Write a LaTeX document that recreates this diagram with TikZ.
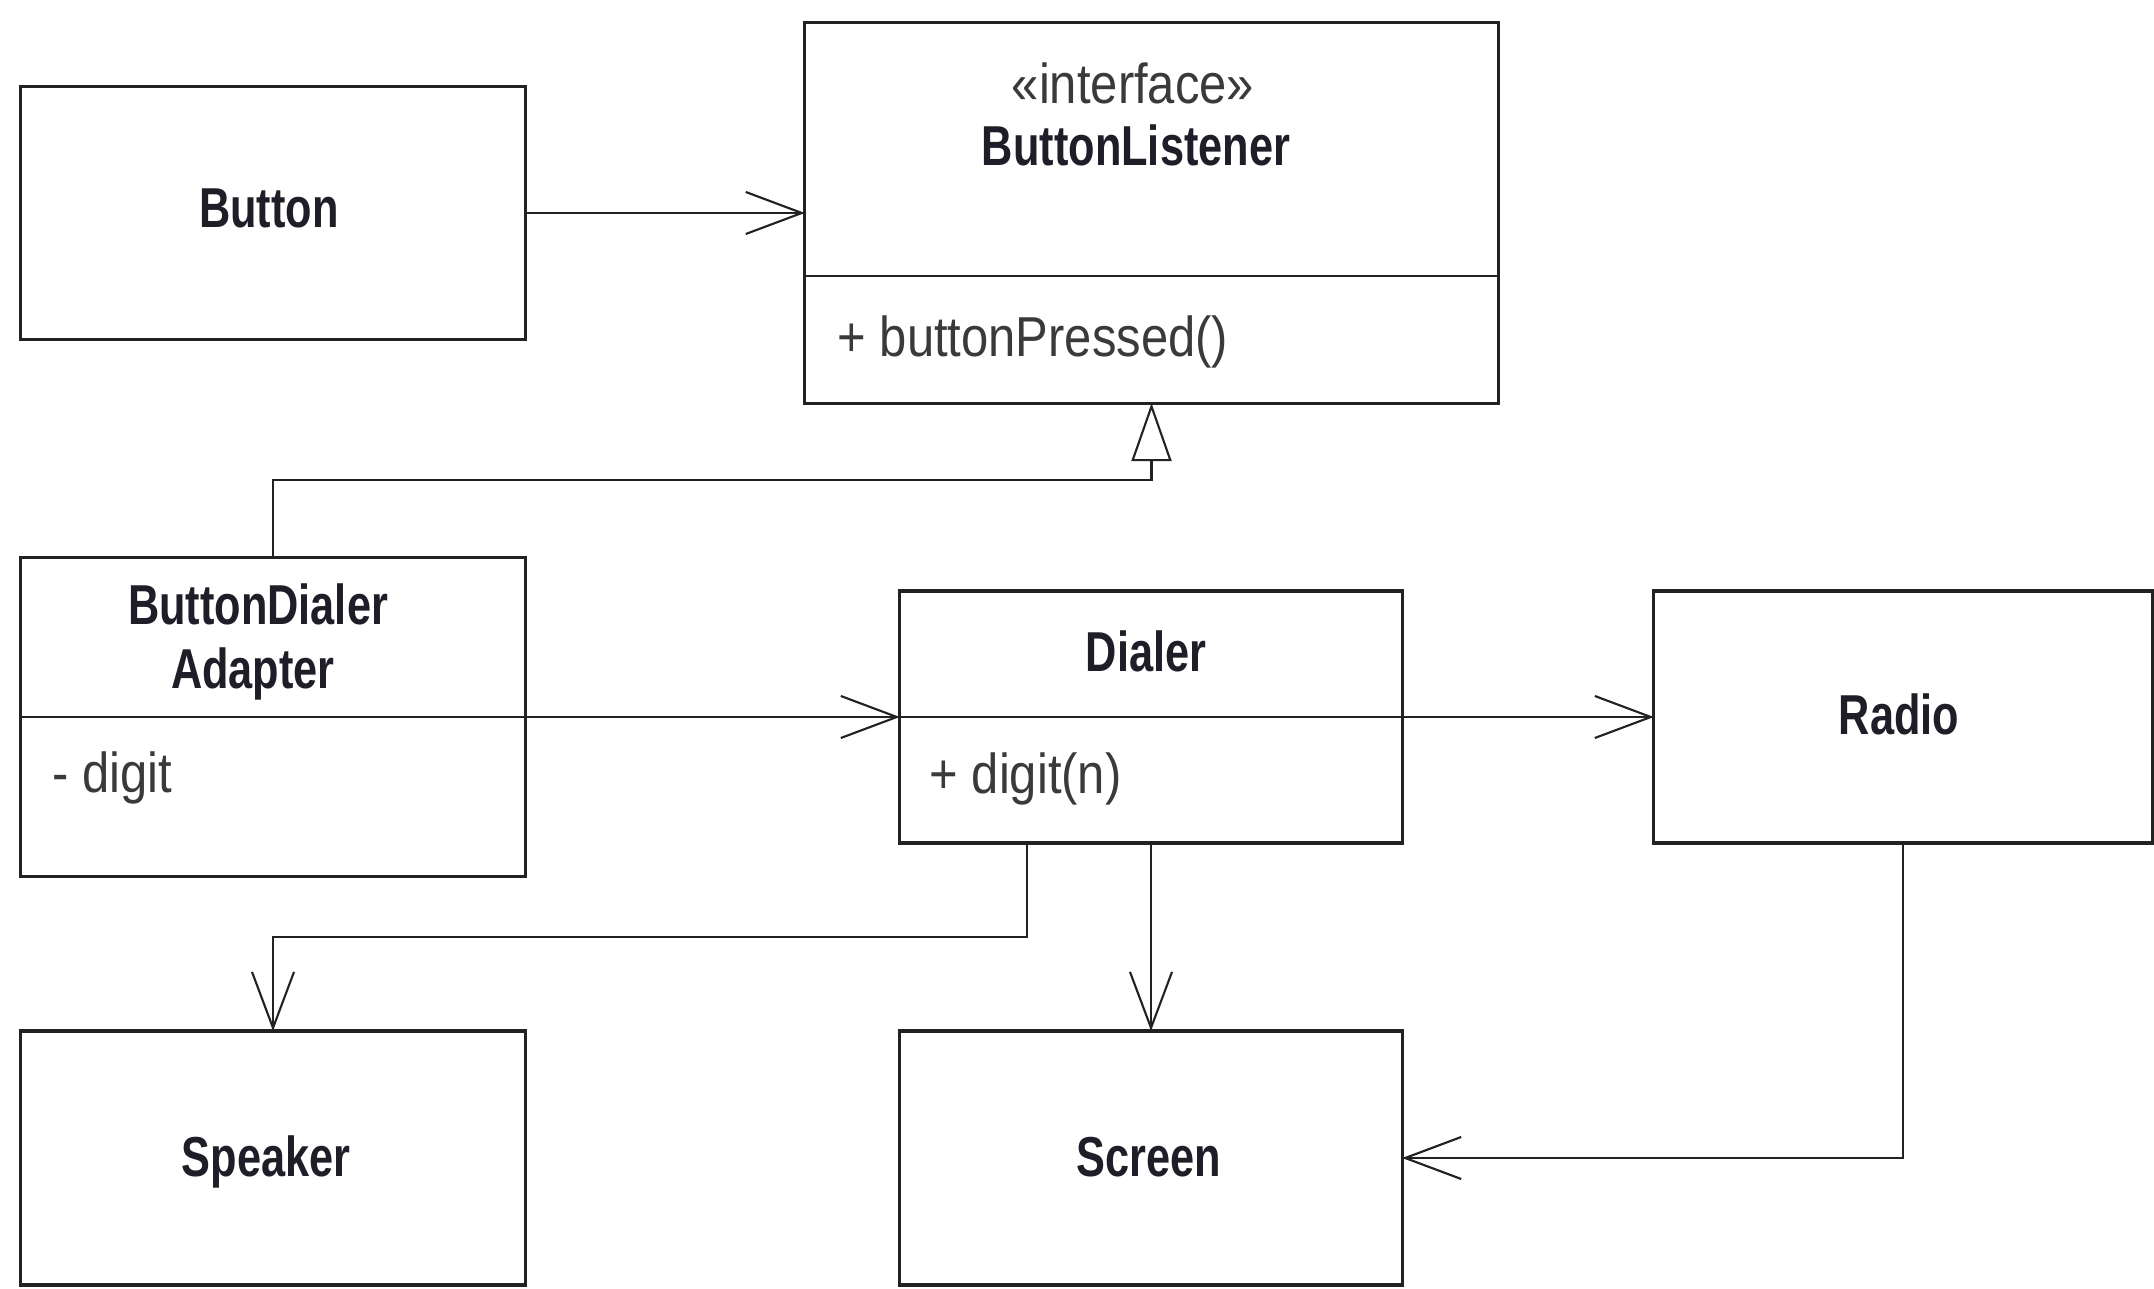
\documentclass[tikz,border=0pt]{standalone}
\usepackage{fontspec}
\setmainfont{Liberation Sans}
\newfontfamily\regf{Liberation Sans}[FakeStretch=0.87]
\newfontfamily\boldf{Liberation Sans}[FakeStretch=0.77]
\usetikzlibrary{arrows.meta,calc}
\definecolor{linec}{HTML}{222222}
\definecolor{boldc}{HTML}{1E1E28}
\definecolor{regc}{HTML}{3A3A3A}
\tikzset{
  cls/.style={draw=linec, line width=0.9pt, inner sep=0pt, outer sep=0pt, fill=white, rectangle},
  divl/.style={draw=linec, line width=0.8pt},
  assoc/.style={draw=linec, line width=0.6pt, -{Straight Barb[length=5.6mm, width=4.2mm, line width=0.6pt]}},
  gen/.style={draw=linec, line width=0.6pt, -{Triangle[open, length=5.8mm, width=4mm, fill=white, line width=0.6pt]}},
  bt/.style={font=\boldf\bfseries\fontsize{16}{19}\selectfont, text=boldc, inner sep=0pt},
  rt/.style={font=\regf\fontsize{16}{19}\selectfont, text=regc, inner sep=0pt},
}
\begin{document}
\begin{tikzpicture}[x=0.01cm, y=-0.01cm]
\useasboundingbox (0,0) rectangle (2154,1289);
\fill[white] (0,0) rectangle (2154,1289);

% boxes
\node[cls, minimum width=5.04cm, minimum height=2.53cm] (button) at (273,213) {};
\node[cls, minimum width=6.93cm, minimum height=3.80cm] (bl) at (1151.5,213) {};
\node[cls, minimum width=5.04cm, minimum height=3.18cm] (bda) at (273,717) {};
\node[cls, minimum width=5.02cm, minimum height=2.52cm] (dialer) at (1151,717) {};
\node[cls, minimum width=4.98cm, minimum height=2.52cm] (radio) at (1903,717) {};
\node[cls, minimum width=5.04cm, minimum height=2.54cm] (speaker) at (273,1158) {};
\node[cls, minimum width=5.02cm, minimum height=2.54cm] (screen) at (1151,1158) {};

% compartment dividers
\draw[divl] (bl.west |- 0,276) -- (bl.east |- 0,276);
\draw[divl] (bda.west) -- (bda.east);
\draw[divl] (dialer.west) -- (dialer.east);

% texts
\node[bt, anchor=base] (tbutton) at (269,228) {Button};
\node[rt, anchor=base] (tinterface) at (1133,104) {«interface»};
\node[bt, anchor=base] (tbl) at (1136,166) {ButtonListener};
\node[rt, anchor=base west] (tbp) at (837,357) {+ buttonPressed()};
\node[bt, anchor=base] (tbd1) at (258,625) {ButtonDialer};
\node[bt, anchor=base] (tbd2) at (253,689) {Adapter};
\node[rt, anchor=base west] (tdigit) at (52,793) {- digit};
\node[bt, anchor=base] (tdialer) at (1146,672) {Dialer};
\node[rt, anchor=base west] (tdigitn) at (929,794) {+ digit(n)};
\node[bt, anchor=base] (tradio) at (1899,735) {Radio};
\node[bt, anchor=base] (tspeaker) at (266,1176) {Speaker};
\node[bt, anchor=base] (tscreen) at (1149,1176) {Screen};

% connectors
\draw[assoc] (button.east) -- (bl.west);
\coordinate (gk) at (1151.5,480);
\draw[gen] (bda.north) |- (gk) -- (bl.south);
\draw[assoc] (bda.east) -- (dialer.west);
\draw[assoc] (dialer.east) -- (radio.west);
\coordinate (sk) at (1027,937);
\draw[assoc] (dialer.south -| sk) -- (sk) -| (speaker.north);
\draw[assoc] (dialer.south) -- (screen.north);
\draw[assoc] (radio.south) |- (screen.east);
\end{tikzpicture}
\end{document}
